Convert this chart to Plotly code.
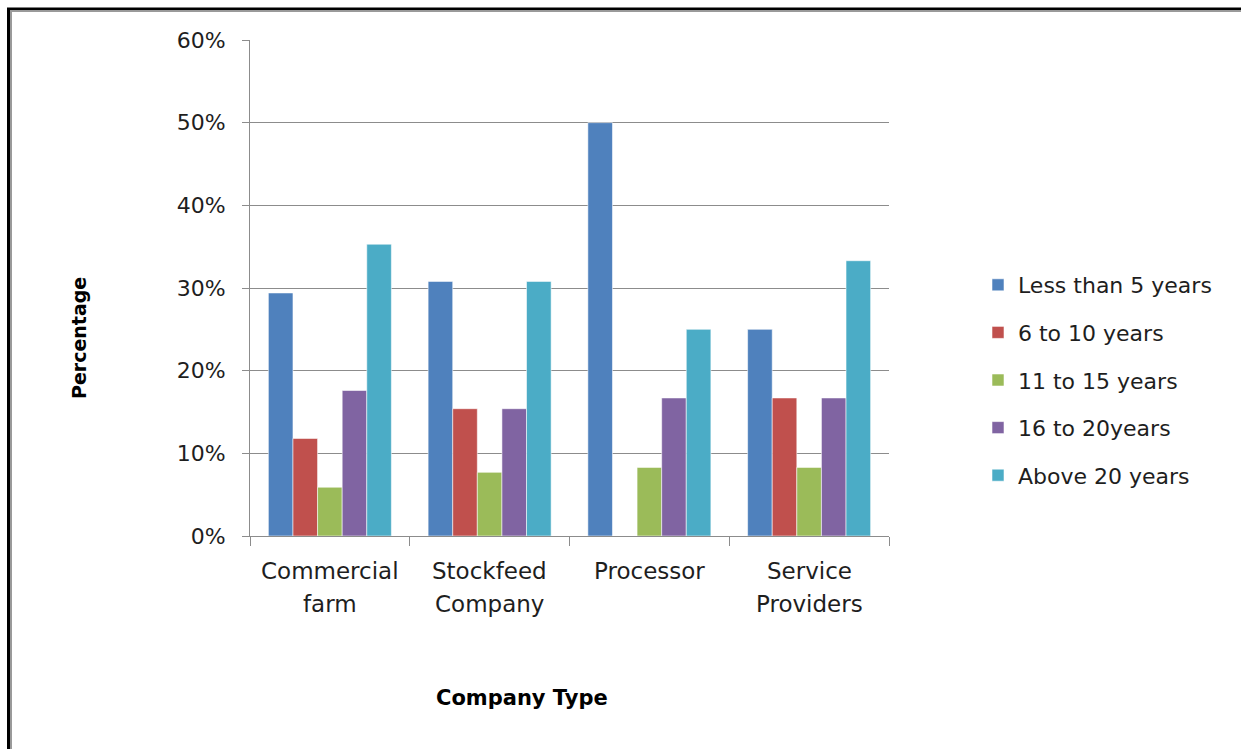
import plotly.graph_objects as go

# Company types (categories) and their two-line labels
categories = ["Commercial farm", "Stockfeed Company", "Processor", "Service Providers"]
category_lines = [["Commercial", "farm"], ["Stockfeed", "Company"], ["Processor"], ["Service", "Providers"]]

# Share of respondents by years in business (fractions)
series_names = ["Less than 5 years", "6 to 10 years", "11 to 15 years", "16 to 20years", "Above 20 years"]
less_than_5 = [0.294, 0.308, 0.500, 0.250]
six_to_10 = [0.118, 0.154, 0.0, 0.167]
eleven_to_15 = [0.059, 0.077, 0.083, 0.083]
sixteen_to_20 = [0.176, 0.154, 0.167, 0.167]
above_20 = [0.353, 0.308, 0.250, 0.333]
series_values = [less_than_5, six_to_10, eleven_to_15, sixteen_to_20, above_20]
series_colors = ["#4F81BD", "#C0504D", "#9BBB59", "#8064A2", "#4BACC6"]

FONT = "DejaVu Sans"
TEXT = "#1e1e1e"
GRID = "#8c8c8c"

W, H = 1241, 749
L, R, T, B = 250, 889, 40, 536  # plot area in pixels


def px(x):
    return (x - L) / (R - L)


def py(y):
    return (B - y) / (B - T)


fig = go.Figure()
for i, (name, vals, col) in enumerate(zip(series_names, series_values, series_colors)):
    fig.add_trace(go.Bar(
        x=categories, y=vals, name=name,
        marker=dict(color=col, line=dict(color="rgba(255,255,255,0.55)", width=1)),
        legendgroup=f"g{i}",
    ))

# Category labels under the axis, one annotation per line
annotations = []
for cat, lines in zip(categories, category_lines):
    for j, line in enumerate(lines):
        annotations.append(dict(
            x=cat, xref="x", y=py(571 + 32.5 * j), yref="paper",
            text=line, showarrow=False, xanchor="center", yanchor="middle",
            font=dict(family=FONT, size=23, color=TEXT),
        ))

annotations.append(dict(
    x=px(522), y=py(698), xref="paper", yref="paper", text="<b>Company Type</b>",
    showarrow=False, xanchor="center", yanchor="middle",
    font=dict(family=FONT, size=21, color="#000"),
))
annotations.append(dict(
    x=px(79), y=py(338), xref="paper", yref="paper", text="<b>Percentage</b>",
    showarrow=False, xanchor="center", yanchor="middle", textangle=-90,
    font=dict(family=FONT, size=19, color="#000"),
))

# Page frame: dark outer line with a grey inner line
shapes = [
    dict(type="line", xref="paper", yref="paper", x0=px(8.5), x1=px(8.5), y0=py(8), y1=py(760),
         line=dict(color="#000", width=3)),
    dict(type="line", xref="paper", yref="paper", x0=px(7), x1=px(1260), y0=py(9), y1=py(9),
         line=dict(color="#000", width=3)),
    dict(type="line", xref="paper", yref="paper", x0=px(11), x1=px(11), y0=py(10.5), y1=py(760),
         line=dict(color="#9a9a9a", width=2)),
    dict(type="line", xref="paper", yref="paper", x0=px(10), x1=px(1260), y0=py(11), y1=py(11),
         line=dict(color="#9a9a9a", width=2)),
]

fig.update_layout(
    width=W, height=H,
    margin=dict(l=L, r=W - R, t=T, b=H - B, pad=0),
    paper_bgcolor="white", plot_bgcolor="white",
    barmode="group", bargap=0.23, bargroupgap=0,
    font=dict(family=FONT, size=20, color=TEXT),
    showlegend=True,
    legend=dict(
        x=px(978), y=py(264), xanchor="left", yanchor="top",
        font=dict(family=FONT, size=22, color=TEXT),
        traceorder="grouped", tracegroupgap=16, itemwidth=30,
        bgcolor="rgba(0,0,0,0)",
    ),
    annotations=annotations,
    shapes=shapes,
)

fig.update_xaxes(
    type="category", showticklabels=False, showgrid=False,
    showline=True, linecolor=GRID, linewidth=1,
    ticks="outside", tickson="boundaries", ticklen=9, tickcolor=GRID,
    range=[-0.5, 3.5],
)
fig.update_yaxes(
    range=[0, 0.6], dtick=0.1, tickformat=".0%",
    showgrid=True, gridcolor=GRID, gridwidth=1,
    showline=True, linecolor=GRID, linewidth=1,
    ticks="outside", ticklen=7, tickcolor=GRID, ticklabelstandoff=12,
    tickfont=dict(family=FONT, size=22, color=TEXT),
    zeroline=False,
)

fig.write_html("out.html")
